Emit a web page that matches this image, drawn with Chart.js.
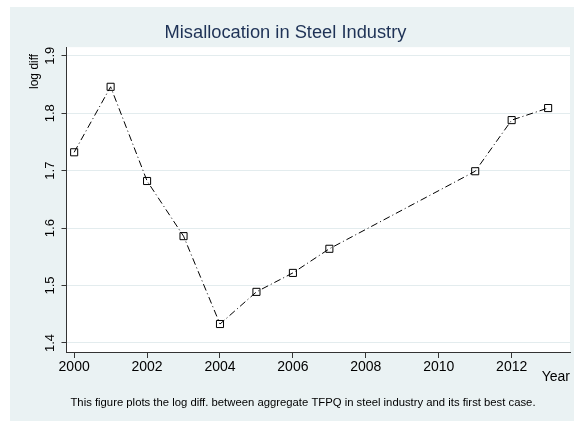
<!DOCTYPE html>
<html>
<head>
<meta charset="utf-8">
<script src="https://cdn.jsdelivr.net/npm/chart.js@4.4.0/dist/chart.umd.min.js"></script>
<style>
  body { margin: 0; background: #fff; }
  #wrap { width: 576px; height: 421px; }
</style>
</head>
<body>
<div id="wrap"><canvas id="myChart"></canvas></div>
<script>
// data
const years = [2000, 2001, 2002, 2003, 2004, 2005, 2006, 2007, 2011, 2012, 2013]
const logDiff = [1.732, 1.846, 1.682, 1.586, 1.433, 1.489, 1.522, 1.564, 1.699, 1.788, 1.809]
const xTicks = [2000, 2002, 2004, 2006, 2008, 2010, 2012]
const yTicks = [1.4, 1.5, 1.6, 1.7, 1.8, 1.9]
const note = 'This figure plots the log diff. between aggregate TFPQ in steel industry and its first best case.'

const FONT = "'Liberation Sans', Arial, Helvetica, sans-serif"
Chart.defaults.font.family = FONT
Chart.defaults.color = '#000'

// stata-like background: light region + white plot area, and the note
const backdrop = {
  id: 'backdrop',
  beforeDraw(chart) {
    const ctx = chart.ctx
    const a = chart.chartArea
    ctx.save()
    ctx.fillStyle = '#ffffff'
    ctx.fillRect(0, 0, chart.width, chart.height)
    ctx.fillStyle = '#EAF2F3'
    ctx.fillRect(10, 7, 564, chart.height - 7)
    ctx.fillStyle = '#ffffff'
    ctx.fillRect(a.left, a.top, a.right - a.left, a.bottom - a.top)
    ctx.restore()
  },
  afterDraw(chart) {
    const ctx = chart.ctx
    ctx.save()
    ctx.font = '11.3px ' + FONT
    ctx.fillStyle = '#000'
    ctx.textAlign = 'center'
    ctx.textBaseline = 'middle'
    ctx.fillText(note, 303, 403)
    ctx.restore()
  }
}

function updateGraph() {
  var ctx = document.getElementById('myChart').getContext('2d')
  var chart = new Chart(ctx, {
    type: 'line',
    data: {
      datasets: [{
        data: years.map((y, i) => ({ x: y, y: logDiff[i] })),
        borderColor: '#000',
        borderWidth: 1,
        borderDash: [7, 3, 1, 3],
        tension: 0,
        pointStyle: 'rect',
        pointRadius: 5,
        pointBorderWidth: 1,
        pointBorderColor: '#000',
        pointBackgroundColor: 'rgba(0,0,0,0)'
      }]
    },
    options: {
      responsive: true,
      maintainAspectRatio: false,
      animation: false,
      layout: { padding: { left: 0, right: 5, top: 0, bottom: 28.2 } },
      plugins: {
        legend: { display: false },
        tooltip: { enabled: false },
        title: {
          display: true,
          text: 'Misallocation in Steel Industry',
          color: '#1E3256',
          font: { size: 18.3, weight: 'normal' },
          padding: { top: 22, bottom: 3.2 }
        }
      },
      scales: {
        x: {
          type: 'linear',
          min: 1999.79,
          max: 2013.6,
          afterBuildTicks: s => { s.ticks = xTicks.map(v => ({ value: v })) },
          afterFit: s => { s.height = 40.8 },
          ticks: {
            font: { size: 14 },
            padding: 1,
            maxRotation: 0,
            callback: v => String(v)
          },
          grid: { drawOnChartArea: false, tickLength: 6, tickColor: '#333' },
          border: { color: '#333', width: 1 },
          title: {
            display: true,
            text: 'Year',
            align: 'end',
            font: { size: 14 },
            padding: { top: 0, bottom: 7.4 }
          }
        },
        y: {
          min: 1.3843,
          max: 1.915,
          afterBuildTicks: s => { s.ticks = yTicks.map(v => ({ value: v })) },
          afterFit: s => { s.width = 66.5 },
          ticks: {
            font: { size: 13 },
            minRotation: 90,
            maxRotation: 90,
            crossAlign: 'center',
            padding: 2,
            callback: v => v.toFixed(1)
          },
          grid: { color: '#E3ECEE', tickLength: 5, tickColor: '#333' },
          border: { color: '#333', width: 1 },
          title: {
            display: true,
            text: 'log diff  ',
            align: 'end',
            font: { size: 12 },
            padding: { top: 27.8, bottom: 0 }
          }
        }
      }
    },
    plugins: [backdrop]
  })
}

updateGraph()
</script>
</body>
</html>
